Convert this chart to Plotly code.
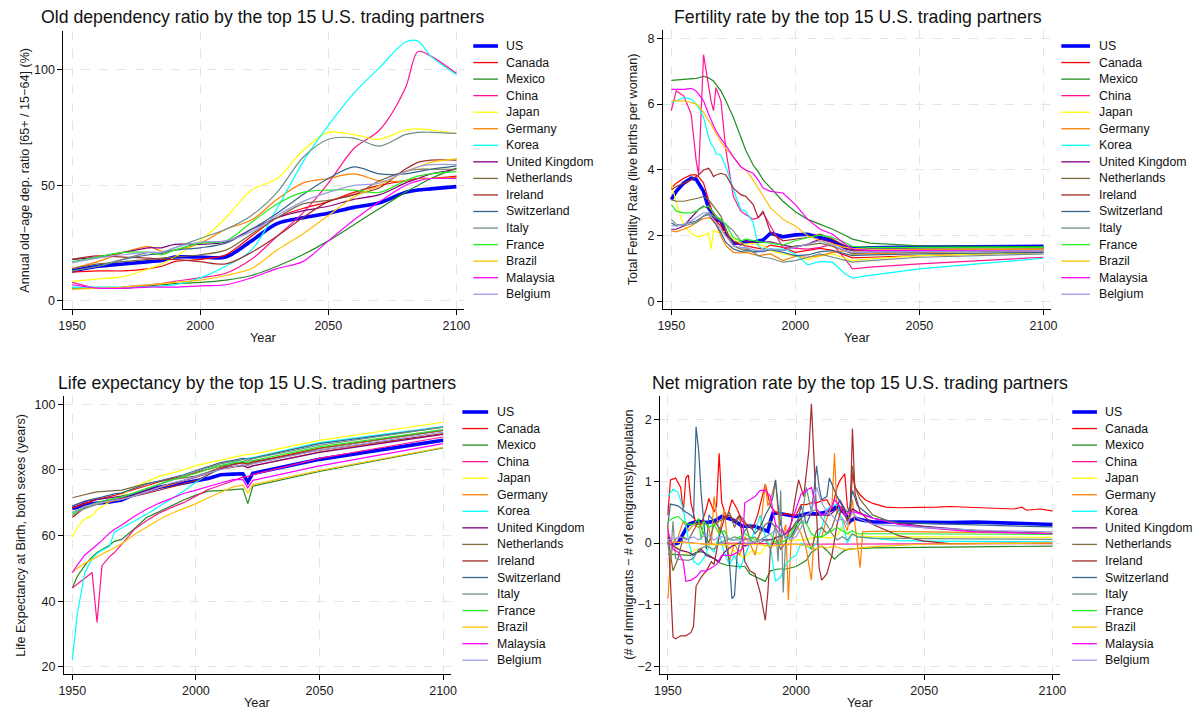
import plotly.graph_objects as go

W, H = 1198, 710
FONT = "Liberation Sans, Arial, Helvetica, sans-serif"

COUNTRIES = ["US", "Canada", "Mexico", "China", "Japan", "Germany", "Korea",
             "United Kingdom", "Netherlands", "Ireland", "Switzerland", "Italy",
             "France", "Brazil", "Malaysia", "Belgium"]
COLORS = ["#0000FF", "#FF0000", "#228B22", "#FF1493", "#FFFF00", "#FF7F00", "#00FFFF",
          "#800080", "#7D6B3D", "#A52A2A", "#36648B", "#6F8F86",
          "#22EE22", "#FFC000", "#FF00FF", "#9A9AE6"]

# ---------------- Old-age dependency ratio (%) ----------------
DEP_YEARS = [1950, 1960, 1970, 1980, 1985, 1990, 2000, 2010, 2020, 2030, 2040, 2050, 2060, 2070, 2080, 2085, 2090, 2100]
dep_US = [13, 15, 16, 17, 17.5, 19, 19, 19, 26, 33.5, 36, 38, 40.5, 42.5, 47, 48, 48.5, 49.5]
dep_Canada = [12.5, 13, 13, 14, 15, 17, 18, 20, 28, 36, 40, 43, 47, 50, 52, 53, 53, 54]
dep_Mexico = [5.5, 5.5, 5.5, 6.5, 7, 7.5, 8, 9, 11, 15, 20, 26, 33, 40, 47, 50, 53, 57.5]
dep_China = [8, 5.5, 6, 7, 7.5, 8.5, 10, 12, 18, 28, 38, 51, 66, 74, 92, 108, 106, 98.5]
dep_Japan = [8.5, 9.5, 10.5, 14, 16, 19, 26, 36, 48, 53, 65, 73, 72, 70, 74, 74.5, 74, 72.5]
dep_Germany = [14, 17, 21, 23.5, 21.5, 22, 25, 31, 35, 44, 51, 53, 55, 52, 52, 53, 53, 53.5]
dep_Korea = [6, 6, 6, 6, 6.5, 7, 10, 15, 22, 40, 60, 76, 90, 101, 112, 112.5, 106, 98]
dep_UK = [18, 19, 21, 23, 23, 24.5, 24.5, 25.5, 31, 36, 39, 41, 44, 46, 51, 53, 55, 57]
dep_Netherlands = [14, 16, 17, 18, 18.5, 19, 20, 22, 29, 36, 42, 43.5, 46, 52, 56, 57, 57, 57]
dep_Ireland = [18, 19.5, 19, 18.5, 18, 18, 17, 16, 21, 28, 36, 43, 46, 49, 57, 60, 61, 61]
dep_Switzerland = [13, 15, 18, 20, 20.5, 22, 23, 25, 31, 38, 46, 53, 58, 55, 55, 56, 57, 58.5]
dep_Italy = [13, 15, 18, 21, 21, 23, 27, 31, 37, 47, 62, 70, 70.5, 67, 72, 73, 73, 72.5]
dep_France = [17, 19, 21, 21, 20, 22, 25, 26, 34, 42, 47, 48, 48, 47, 52, 54, 55, 56]
dep_Brazil = [5, 5.5, 6, 7, 7.5, 8, 9, 11, 14, 22, 29, 37, 45, 50, 56, 58, 60, 61.5]
dep_Malaysia = [7, 5.5, 5.5, 6, 6, 6, 6.5, 7, 10, 14, 17, 26, 35, 43, 50, 52, 53, 53]
dep_Belgium = [16.5, 18.5, 20, 21, 21, 23, 25.5, 26, 30, 37, 43, 47, 50, 51, 56, 58, 59, 59]

# ---------------- Total fertility rate ----------------
FERT_YEARS = [1950, 1952, 1955, 1958, 1960, 1961, 1963, 1965, 1966, 1967, 1968, 1970, 1972, 1975, 1978,
              1980, 1983, 1985, 1987, 1990, 1995, 2000, 2005, 2010, 2015, 2020, 2023, 2030, 2050, 2100]
fert_US = [3.1, 3.35, 3.6, 3.75, 3.72, 3.6, 3.35, 2.85, 2.75, 2.6, 2.5, 2.45, 2.1, 1.78, 1.78, 1.82, 1.8, 1.84, 1.87, 2.08, 1.97, 2.03, 2.05, 1.95, 1.84, 1.66, 1.62, 1.64, 1.66, 1.68]
fert_Canada = [3.45, 3.6, 3.75, 3.85, 3.85, 3.8, 3.6, 3.1, 2.8, 2.6, 2.45, 2.3, 2.0, 1.8, 1.75, 1.7, 1.65, 1.62, 1.6, 1.72, 1.65, 1.5, 1.55, 1.62, 1.56, 1.42, 1.33, 1.35, 1.4, 1.5]
fert_Mexico = [6.72, 6.73, 6.75, 6.77, 6.78, 6.8, 6.84, 6.8, 6.75, 6.7, 6.6, 6.4, 6.1, 5.6, 5.0, 4.6, 4.15, 3.95, 3.7, 3.45, 3.05, 2.73, 2.5, 2.35, 2.2, 2.02, 1.9, 1.78, 1.7, 1.67]
fert_China = [5.8, 6.4, 6.25, 5.7, 4.3, 3.85, 7.5, 6.6, 6.1, 5.8, 6.5, 6.1, 4.6, 3.2, 2.75, 2.65, 2.5, 2.55, 2.7, 2.3, 1.65, 1.62, 1.6, 1.65, 1.75, 1.3, 1.0, 1.05, 1.15, 1.35]
fert_Japan = [3.6, 3.0, 2.3, 2.08, 2.0, 1.97, 2.02, 2.1, 1.6, 2.15, 2.12, 2.1, 2.15, 1.9, 1.78, 1.75, 1.78, 1.75, 1.7, 1.55, 1.45, 1.38, 1.28, 1.38, 1.45, 1.32, 1.25, 1.3, 1.4, 1.5]
fert_Germany = [2.15, 2.12, 2.2, 2.3, 2.4, 2.45, 2.52, 2.55, 2.52, 2.45, 2.35, 2.0, 1.7, 1.5, 1.48, 1.5, 1.45, 1.4, 1.42, 1.45, 1.25, 1.38, 1.35, 1.4, 1.5, 1.55, 1.45, 1.45, 1.5, 1.55]
fert_Korea = [6.05, 6.1, 6.2, 6.15, 6.0, 5.9, 5.6, 5.0, 4.8, 4.7, 4.5, 4.45, 4.1, 3.4, 2.8, 2.75, 2.4, 1.7, 1.6, 1.6, 1.6, 1.45, 1.12, 1.22, 1.2, 0.85, 0.72, 0.8, 1.0, 1.32]
fert_UK = [2.2, 2.2, 2.3, 2.55, 2.7, 2.8, 2.9, 2.85, 2.8, 2.7, 2.6, 2.4, 2.1, 1.8, 1.72, 1.85, 1.8, 1.8, 1.82, 1.82, 1.72, 1.65, 1.75, 1.9, 1.8, 1.6, 1.55, 1.55, 1.55, 1.6]
fert_Netherlands = [3.1, 3.05, 3.05, 3.1, 3.12, 3.15, 3.2, 3.1, 3.0, 2.9, 2.8, 2.6, 2.2, 1.7, 1.6, 1.6, 1.5, 1.52, 1.55, 1.6, 1.55, 1.7, 1.72, 1.78, 1.68, 1.55, 1.45, 1.5, 1.52, 1.55]
fert_Ireland = [3.4, 3.5, 3.6, 3.7, 3.8, 3.85, 4.0, 4.05, 3.95, 3.8, 3.85, 3.9, 3.85, 3.45, 3.25, 3.2, 2.95, 2.55, 2.75, 2.1, 1.85, 1.9, 1.95, 2.05, 1.9, 1.7, 1.55, 1.55, 1.58, 1.6]
fert_Switzerland = [2.4, 2.3, 2.35, 2.4, 2.45, 2.5, 2.6, 2.65, 2.55, 2.45, 2.35, 2.1, 1.8, 1.6, 1.52, 1.55, 1.52, 1.52, 1.52, 1.58, 1.5, 1.4, 1.42, 1.52, 1.55, 1.45, 1.4, 1.42, 1.45, 1.5]
fert_Italy = [2.5, 2.35, 2.3, 2.35, 2.4, 2.45, 2.6, 2.7, 2.65, 2.6, 2.55, 2.45, 2.35, 2.15, 1.85, 1.65, 1.5, 1.4, 1.35, 1.32, 1.2, 1.25, 1.35, 1.45, 1.35, 1.25, 1.2, 1.25, 1.35, 1.45]
fert_France = [2.95, 2.75, 2.7, 2.7, 2.75, 2.8, 2.88, 2.9, 2.8, 2.7, 2.6, 2.5, 2.35, 1.95, 1.85, 1.9, 1.85, 1.82, 1.8, 1.78, 1.72, 1.85, 1.95, 2.02, 1.95, 1.8, 1.68, 1.65, 1.65, 1.65]
fert_Brazil = [6.1, 6.1, 6.1, 6.05, 6.0, 5.95, 5.75, 5.5, 5.4, 5.25, 5.1, 4.85, 4.65, 4.4, 4.1, 4.0, 3.7, 3.45, 3.2, 2.85, 2.5, 2.3, 2.0, 1.85, 1.75, 1.65, 1.62, 1.6, 1.6, 1.6]
fert_Malaysia = [6.45, 6.45, 6.45, 6.48, 6.4, 6.3, 6.1, 5.7, 5.5, 5.35, 5.2, 4.95, 4.75, 4.4, 4.1, 4.0, 3.9, 3.7, 3.45, 3.35, 3.3, 2.95, 2.5, 2.2, 2.05, 1.75, 1.6, 1.55, 1.55, 1.55]
fert_Belgium = [2.3, 2.3, 2.35, 2.45, 2.55, 2.6, 2.7, 2.7, 2.6, 2.5, 2.4, 2.2, 2.0, 1.7, 1.65, 1.65, 1.58, 1.55, 1.55, 1.6, 1.55, 1.65, 1.75, 1.85, 1.72, 1.55, 1.5, 1.5, 1.52, 1.55]

# ---------------- Life expectancy at birth (years) ----------------
LIFE_YEARS = [1950, 1952, 1955, 1958, 1960, 1962, 1965, 1967, 1970, 1975, 1980, 1985, 1990, 1995,
              2000, 2005, 2010, 2015, 2019, 2021, 2023, 2050, 2100]
life_US = [68.2, 68.6, 69.5, 69.6, 69.8, 70.0, 70.2, 70.4, 70.8, 72.5, 73.7, 74.7, 75.3, 75.9, 76.7, 77.4, 78.5, 78.7, 78.8, 76.3, 78.9, 83.2, 89.0]
life_Canada = [68.4, 68.9, 69.8, 70.5, 71.0, 71.3, 71.8, 72.2, 72.8, 74.0, 75.2, 76.3, 77.3, 78.0, 79.2, 80.2, 81.2, 81.8, 82.2, 81.6, 82.3, 86.6, 92.0]
life_Mexico = [44.0, 47.5, 50.8, 53.5, 54.8, 55.7, 57.0, 58.2, 58.8, 62.0, 65.5, 67.2, 69.0, 70.8, 72.3, 73.5, 73.7, 73.9, 74.2, 69.7, 75.0, 79.5, 86.7]
life_China = [44.0, 45.2, 46.9, 48.7, 33.5, 50.8, 53.5, 54.8, 57.3, 61.8, 64.5, 66.8, 68.5, 70.0, 72.0, 74.0, 75.3, 76.8, 77.8, 78.0, 78.5, 83.5, 90.0]
life_Japan = [59.5, 62.5, 65.0, 66.0, 67.8, 68.8, 70.3, 71.0, 72.2, 74.8, 76.5, 78.0, 79.0, 80.0, 81.3, 82.2, 82.9, 83.8, 84.5, 84.6, 84.8, 89.0, 94.5]
life_Germany = [67.0, 67.8, 68.8, 69.3, 69.5, 69.9, 70.3, 70.6, 71.0, 72.2, 73.5, 74.6, 75.5, 76.7, 78.0, 79.0, 80.1, 80.8, 81.3, 80.8, 81.2, 85.5, 91.0]
life_Korea = [22.0, 36.0, 48.5, 53.0, 54.5, 55.5, 56.6, 61.0, 62.3, 64.3, 66.5, 68.8, 71.2, 73.5, 76.3, 78.5, 80.3, 82.2, 83.3, 83.6, 83.7, 88.3, 93.2]
life_UK = [69.0, 69.6, 70.3, 70.8, 71.0, 71.2, 71.6, 71.8, 72.0, 72.8, 73.8, 74.8, 75.8, 76.7, 77.8, 79.0, 80.4, 81.0, 81.3, 80.6, 81.2, 85.3, 90.8]
life_Netherlands = [71.5, 71.9, 72.6, 73.0, 73.3, 73.4, 73.6, 73.7, 73.8, 74.8, 75.8, 76.5, 77.1, 77.5, 78.1, 79.3, 80.8, 81.6, 82.2, 81.5, 82.0, 86.5, 92.0]
life_Ireland = [65.5, 66.8, 68.5, 69.6, 70.0, 70.4, 70.9, 71.0, 71.3, 72.0, 72.8, 73.8, 74.8, 75.6, 76.7, 78.5, 80.5, 81.6, 82.2, 82.0, 82.5, 86.0, 91.0]
life_Switzerland = [69.0, 69.6, 70.5, 71.0, 71.3, 71.7, 72.3, 72.7, 73.0, 74.4, 75.7, 76.6, 77.5, 78.5, 79.8, 81.1, 82.2, 82.9, 83.5, 83.3, 83.6, 88.0, 93.0]
life_Italy = [66.0, 67.2, 68.2, 69.0, 69.5, 70.0, 70.8, 71.2, 71.6, 72.8, 74.2, 75.5, 76.8, 78.2, 79.5, 80.7, 81.8, 82.6, 83.2, 82.6, 83.4, 87.5, 93.0]
life_France = [66.5, 67.5, 68.8, 69.5, 70.0, 70.5, 71.0, 71.3, 71.8, 73.0, 74.3, 75.6, 76.9, 77.9, 78.9, 80.2, 81.3, 82.1, 82.6, 82.2, 82.8, 87.0, 92.3]
life_Brazil = [48.8, 50.0, 51.5, 52.7, 53.5, 54.3, 55.4, 56.2, 57.5, 60.2, 62.5, 64.8, 66.7, 68.2, 69.7, 71.5, 73.2, 74.8, 75.3, 73.0, 75.5, 79.8, 86.8]
life_Malaysia = [48.7, 51.0, 54.0, 55.8, 57.2, 58.5, 60.7, 61.8, 63.2, 65.8, 68.0, 69.8, 71.3, 72.8, 73.8, 75.0, 76.0, 77.0, 77.0, 74.5, 76.8, 81.2, 88.0]
life_Belgium = [67.0, 67.8, 68.8, 69.4, 69.8, 70.1, 70.5, 70.8, 71.0, 72.0, 73.3, 74.6, 76.0, 76.8, 77.8, 79.0, 80.1, 81.0, 81.6, 81.3, 81.8, 86.0, 91.5]

# ---------------- Net migration rate: [year, value] ----------------
mig_US = [[1950, 0.03], [1952, -0.02], [1954, 0.0], [1956, 0.15], [1958, 0.3], [1960, 0.33], [1962, 0.35], [1965, 0.33], [1968, 0.35], [1971, 0.43], [1973, 0.4], [1975, 0.38], [1977, 0.33], [1979, 0.27], [1982, 0.27], [1984, 0.27], [1987, 0.22], [1989, 0.19], [1990, 0.35], [1991, 0.48], [1993, 0.48], [1996, 0.46], [2000, 0.43], [2002, 0.45], [2005, 0.48], [2008, 0.47], [2010, 0.48], [2012, 0.5], [2014, 0.54], [2016, 0.59], [2018, 0.52], [2019, 0.48], [2021, 0.35], [2023, 0.4], [2026, 0.37], [2030, 0.34], [2040, 0.34], [2050, 0.33], [2060, 0.33], [2070, 0.34], [2080, 0.33], [2090, 0.32], [2100, 0.3]]
mig_Canada = [[1950, 0.45], [1951, 1.02], [1953, 1.05], [1955, 0.9], [1956, 0.5], [1957, 1.05], [1958, 1.1], [1959, 0.65], [1961, 0.3], [1963, 0.3], [1965, 0.55], [1966, 0.72], [1968, 0.5], [1969, 0.6], [1970, 1.45], [1971, 0.65], [1973, 0.4], [1975, 0.7], [1977, 0.55], [1979, 0.35], [1981, 0.3], [1983, 0.22], [1985, 0.45], [1987, 0.8], [1988, 0.95], [1990, 0.6], [1992, 0.5], [1994, 0.45], [1996, 0.48], [1998, 0.45], [2000, 0.45], [2002, 0.62], [2004, 0.62], [2006, 0.65], [2008, 0.65], [2010, 0.68], [2012, 0.7], [2014, 0.55], [2016, 0.9], [2017, 1.0], [2019, 1.12], [2020, 0.6], [2021, 0.45], [2022, 1.12], [2023, 0.9], [2025, 0.78], [2027, 0.7], [2030, 0.64], [2035, 0.58], [2040, 0.57], [2045, 0.57], [2050, 0.57], [2055, 0.58], [2060, 0.59], [2065, 0.58], [2070, 0.57], [2075, 0.56], [2080, 0.56], [2085, 0.55], [2088, 0.58], [2090, 0.53], [2095, 0.55], [2100, 0.52]]
mig_Mexico = [[1950, -0.18], [1955, -0.19], [1959, -0.2], [1961, -0.15], [1963, -0.14], [1965, -0.17], [1968, -0.25], [1970, -0.32], [1973, -0.36], [1977, -0.38], [1980, -0.38], [1982, -0.5], [1985, -0.56], [1988, -0.62], [1990, -0.45], [1993, -0.42], [1996, -0.42], [2000, -0.38], [2002, -0.33], [2004, -0.28], [2006, -0.15], [2008, -0.1], [2010, -0.05], [2012, -0.12], [2014, -0.22], [2015, -0.26], [2017, -0.18], [2019, -0.12], [2021, -0.1], [2023, -0.09], [2030, -0.08], [2050, -0.07], [2075, -0.06], [2100, -0.05]]
mig_China = [[1950, 0.0], [1955, 0.02], [1960, 0.0], [1965, -0.02], [1970, 0.0], [1975, 0.0], [1980, -0.01], [1985, 0.0], [1990, -0.01], [1995, -0.02], [2000, -0.02], [2005, -0.02], [2010, -0.02], [2015, -0.01], [2020, -0.02], [2025, -0.02], [2050, -0.02], [2100, -0.01]]
mig_Japan = [[1950, 0.02], [1953, -0.05], [1956, -0.12], [1958, -0.18], [1960, -0.12], [1963, -0.08], [1966, -0.05], [1969, 0.0], [1972, -0.05], [1975, -0.1], [1978, -0.2], [1980, -0.24], [1983, -0.12], [1986, -0.18], [1988, -0.05], [1990, 0.0], [1993, 0.04], [1996, 0.02], [2000, 0.05], [2003, 0.05], [2006, 0.08], [2010, 0.1], [2013, 0.08], [2016, 0.12], [2018, 0.25], [2020, 0.15], [2023, 0.12], [2030, 0.1], [2050, 0.1], [2100, 0.09]]
mig_Germany = [[1950, -0.9], [1951, -0.3], [1952, 0.0], [1954, 0.1], [1956, 0.35], [1958, 0.2], [1960, 0.3], [1962, 0.25], [1964, 0.35], [1966, 0.25], [1967, 0.0], [1968, 0.75], [1970, 0.15], [1972, 0.55], [1974, -0.3], [1976, 0.0], [1978, -0.2], [1980, 0.1], [1982, 0.0], [1984, -0.2], [1986, 0.2], [1988, 0.95], [1989, 0.6], [1990, 0.7], [1992, 1.0], [1994, 0.0], [1996, 0.3], [1997, -0.92], [1998, 0.0], [2000, 0.3], [2002, 0.15], [2004, -0.1], [2006, -0.6], [2007, 0.1], [2010, 0.1], [2012, 0.4], [2014, 0.6], [2015, 1.45], [2016, 0.5], [2018, 0.4], [2020, 0.2], [2022, 0.7], [2023, 0.3], [2025, -0.4], [2026, 0.18], [2030, 0.19], [2050, 0.18], [2075, 0.17], [2100, 0.16]]
mig_Korea = [[1950, 0.75], [1952, 0.87], [1954, 0.82], [1956, 0.55], [1958, 0.05], [1960, -0.3], [1962, -0.35], [1964, -0.25], [1966, -0.05], [1968, -0.15], [1970, 0.15], [1972, -0.15], [1974, -0.35], [1976, -0.2], [1978, -0.42], [1980, -0.2], [1982, 0.0], [1984, 0.2], [1986, 0.45], [1988, 0.1], [1990, -0.05], [1992, -0.62], [1994, -0.55], [1996, -0.35], [1998, -0.25], [2000, -0.2], [2002, 0.0], [2004, -0.05], [2006, -0.1], [2008, 0.0], [2010, 0.25], [2012, 0.55], [2014, 0.6], [2016, 0.62], [2018, 0.35], [2020, 0.0], [2022, 0.15], [2024, 0.1], [2030, 0.08], [2040, 0.04], [2050, 0.03], [2100, 0.02]]
mig_UK = [[1950, 0.15], [1952, -0.05], [1955, -0.12], [1958, -0.15], [1960, -0.2], [1963, -0.1], [1965, -0.2], [1968, -0.25], [1970, -0.3], [1972, -0.15], [1975, -0.05], [1978, 0.0], [1980, -0.05], [1983, 0.0], [1986, 0.05], [1990, 0.05], [1993, 0.1], [1996, 0.15], [2000, 0.3], [2003, 0.45], [2006, 0.45], [2010, 0.45], [2013, 0.45], [2016, 0.55], [2017, 0.7], [2019, 0.55], [2020, 0.35], [2022, 0.55], [2024, 0.5], [2030, 0.4], [2040, 0.32], [2050, 0.27], [2070, 0.2], [2100, 0.15]]
mig_Netherlands = [[1950, 0.1], [1952, -0.45], [1954, -0.25], [1956, 0.1], [1958, 0.05], [1960, 0.2], [1962, 0.35], [1964, 0.15], [1966, 0.0], [1968, 0.3], [1970, 0.35], [1972, 0.4], [1974, 0.5], [1976, 0.25], [1978, 0.45], [1980, 0.35], [1982, 0.05], [1984, 0.0], [1986, 0.15], [1988, 0.3], [1990, 0.35], [1992, 0.25], [1994, 0.1], [1996, 0.15], [1998, 0.2], [2000, 0.35], [2002, 0.4], [2004, 0.1], [2006, -0.1], [2008, 0.2], [2010, 0.25], [2012, 0.15], [2014, 0.25], [2016, 0.5], [2018, 0.6], [2020, 0.35], [2021, 0.5], [2022, 1.25], [2023, 0.9], [2025, 0.7], [2030, 0.45], [2040, 0.3], [2060, 0.22], [2080, 0.18], [2100, 0.15]]
mig_Ireland = [[1950, 0.3], [1951, -0.5], [1952, -1.52], [1953, -1.55], [1955, -1.5], [1957, -1.5], [1959, -1.45], [1960, -1.35], [1961, -0.7], [1963, -0.55], [1965, -0.45], [1967, -0.3], [1968, -0.35], [1970, 0.1], [1972, 0.4], [1974, 0.45], [1976, 0.35], [1978, 0.45], [1980, -0.3], [1982, -0.45], [1984, -0.5], [1986, -0.8], [1988, -1.25], [1989, -0.8], [1990, -0.1], [1992, 0.1], [1994, -0.1], [1996, 0.0], [1998, 0.3], [2000, 0.8], [2001, 1.02], [2003, 0.75], [2005, 1.5], [2006, 2.25], [2007, 1.3], [2008, 0.3], [2009, -0.4], [2010, -0.6], [2012, -0.5], [2014, -0.2], [2016, 0.3], [2018, 0.6], [2020, 0.4], [2021, 0.3], [2022, 1.85], [2023, 0.8], [2025, 0.5], [2030, 0.3], [2040, 0.12], [2050, 0.03], [2060, -0.01], [2080, 0.0], [2100, 0.0]]
mig_Switzerland = [[1950, 0.3], [1951, 0.63], [1954, 0.6], [1957, 0.5], [1959, 0.45], [1960, 0.4], [1961, 1.88], [1962, 1.5], [1963, 0.8], [1964, 0.3], [1965, -0.1], [1966, 0.45], [1968, 0.35], [1970, 0.25], [1972, 0.1], [1974, -0.3], [1975, -0.9], [1976, -0.85], [1977, -0.2], [1978, 0.0], [1980, 0.2], [1982, 0.3], [1984, 0.15], [1986, 0.25], [1988, 0.45], [1990, 0.6], [1991, 0.75], [1992, 1.02], [1993, 0.6], [1994, 0.3], [1996, 0.05], [1998, 0.1], [2000, 0.25], [2002, 0.6], [2004, 0.3], [2006, 0.5], [2007, 0.85], [2008, 1.25], [2009, 0.9], [2010, 0.7], [2012, 0.75], [2013, 1.05], [2014, 0.95], [2016, 0.75], [2018, 0.6], [2020, 0.5], [2021, 0.55], [2022, 0.85], [2024, 0.6], [2030, 0.4], [2040, 0.33], [2060, 0.3], [2080, 0.28], [2100, 0.26]]
mig_Italy = [[1950, 0.0], [1951, -0.25], [1952, 0.35], [1953, -0.25], [1955, -0.27], [1958, -0.28], [1960, -0.25], [1962, -0.1], [1965, -0.05], [1968, -0.1], [1970, 0.0], [1973, 0.05], [1976, 0.1], [1980, 0.05], [1984, 0.1], [1986, 0.0], [1988, 0.05], [1990, -0.1], [1992, 0.3], [1993, -0.3], [1994, 0.85], [1995, -0.8], [1996, 0.1], [1998, 0.05], [2000, 0.2], [2002, 0.35], [2004, 0.9], [2006, 0.5], [2008, 0.55], [2010, 0.4], [2012, 0.3], [2014, 0.15], [2016, 0.05], [2018, 0.1], [2020, 0.05], [2022, 0.15], [2024, 0.1], [2030, 0.08], [2050, 0.07], [2100, 0.06]]
mig_France = [[1950, 0.35], [1952, 0.4], [1954, 0.43], [1956, 0.35], [1958, 0.3], [1960, 0.3], [1962, 0.4], [1963, 0.05], [1964, 0.35], [1966, 0.25], [1968, 0.3], [1970, 0.15], [1972, 0.2], [1974, 0.05], [1976, 0.05], [1978, 0.1], [1980, 0.15], [1982, 0.1], [1984, 0.05], [1986, 0.05], [1988, 0.1], [1990, 0.15], [1992, 0.0], [1994, 0.0], [1996, 0.05], [1998, 0.15], [2000, 0.3], [2002, 0.33], [2004, 0.32], [2006, 0.15], [2008, 0.1], [2010, 0.1], [2012, 0.15], [2014, 0.2], [2016, 0.25], [2018, 0.2], [2020, 0.15], [2022, 0.2], [2024, 0.15], [2030, 0.15], [2050, 0.15], [2100, 0.14]]
mig_Brazil = [[1950, 0.02], [1955, 0.01], [1960, 0.0], [1965, -0.02], [1970, -0.03], [1975, -0.02], [1980, -0.02], [1985, -0.02], [1990, -0.05], [1995, -0.03], [2000, -0.02], [2005, -0.05], [2008, -0.1], [2010, -0.05], [2012, -0.08], [2015, -0.05], [2018, -0.1], [2020, -0.1], [2022, -0.1], [2025, -0.08], [2030, -0.06], [2050, -0.02], [2075, -0.01], [2100, 0.0]]
mig_Malaysia = [[1950, 0.2], [1952, -0.1], [1954, -0.15], [1956, -0.3], [1957, -0.62], [1959, -0.6], [1961, -0.55], [1963, -0.45], [1965, -0.45], [1967, -0.4], [1969, -0.35], [1971, -0.2], [1973, -0.2], [1975, -0.2], [1977, -0.15], [1979, -0.1], [1980, 0.65], [1982, 0.7], [1984, 0.75], [1986, 0.85], [1988, 0.85], [1990, 0.75], [1992, 0.3], [1994, 0.2], [1996, 0.15], [1998, 0.3], [2000, 0.55], [2002, 0.8], [2004, 0.85], [2006, 0.9], [2008, 0.55], [2010, 0.45], [2012, 0.5], [2014, 0.6], [2015, 0.7], [2017, 0.6], [2019, 0.45], [2021, 0.5], [2023, 0.5], [2030, 0.4], [2040, 0.3], [2050, 0.25], [2070, 0.18], [2100, 0.15]]
mig_Belgium = [[1950, 0.05], [1955, 0.1], [1957, 0.05], [1960, 0.1], [1962, 0.05], [1965, 0.15], [1968, 0.05], [1970, 0.1], [1972, 0.1], [1975, 0.05], [1978, 0.05], [1980, 0.0], [1983, 0.0], [1986, 0.05], [1988, 0.1], [1990, 0.15], [1992, 0.2], [1994, 0.15], [1996, 0.1], [1998, 0.05], [2000, 0.1], [2002, 0.25], [2004, 0.45], [2006, 0.5], [2008, 0.9], [2010, 0.65], [2012, 0.5], [2014, 0.45], [2016, 0.35], [2018, 0.4], [2020, 0.3], [2022, 0.5], [2024, 0.4], [2030, 0.3], [2050, 0.25], [2075, 0.2], [2100, 0.18]]

DEP = [dep_US, dep_Canada, dep_Mexico, dep_China, dep_Japan, dep_Germany, dep_Korea, dep_UK,
       dep_Netherlands, dep_Ireland, dep_Switzerland, dep_Italy, dep_France, dep_Brazil, dep_Malaysia, dep_Belgium]
FERT = [fert_US, fert_Canada, fert_Mexico, fert_China, fert_Japan, fert_Germany, fert_Korea, fert_UK,
        fert_Netherlands, fert_Ireland, fert_Switzerland, fert_Italy, fert_France, fert_Brazil, fert_Malaysia, fert_Belgium]
LIFE = [life_US, life_Canada, life_Mexico, life_China, life_Japan, life_Germany, life_Korea, life_UK,
        life_Netherlands, life_Ireland, life_Switzerland, life_Italy, life_France, life_Brazil, life_Malaysia, life_Belgium]
MIG = [mig_US, mig_Canada, mig_Mexico, mig_China, mig_Japan, mig_Germany, mig_Korea, mig_UK,
       mig_Netherlands, mig_Ireland, mig_Switzerland, mig_Italy, mig_France, mig_Brazil, mig_Malaysia, mig_Belgium]


def fx(px):
    return px / W


def fy(py):
    return 1 - py / H


panels = [
    dict(n="", title="Old dependency ratio by the top 15 U.S. trading partners",
         ytitle="Annual old\u2212age dep. ratio [65+ / 15\u221264] (%)",
         box=(58, 463, 30.7, 309), xr=[1946.6, 2103.1], yr=[-3.5, 117.0], yt=[0, 50, 100],
         series=[(DEP_YEARS, v) for v in DEP], shape="spline",
         title_xy=(260, 17), ytitle_x=19, xtitle_y=337, leg=(472, 497, 503, 46)),
    dict(n="2", title="Fertility rate by the top 15 U.S. trading partners",
         ytitle="Total Fertility Rate (live births per woman)",
         box=(663.5, 1056, 30, 309.3), xr=[1946.6, 2103.2], yr=[-0.23, 8.25], yt=[0, 2, 4, 6, 8],
         series=[(FERT_YEARS, v) for v in FERT], shape="linear",
         title_xy=(861, 17), ytitle_x=633, xtitle_y=337, leg=(1066, 1095, 1102, 46)),
    dict(n="3", title="Life expectancy by the top 15 U.S. trading partners",
         ytitle="Life Expectancy at Birth, both sexes (years)",
         box=(58.5, 449, 396, 674), xr=[1946.6, 2103.0], yr=[17.8, 102.5], yt=[20, 40, 60, 80, 100],
         series=[(LIFE_YEARS, v) for v in LIFE], shape="linear",
         title_xy=(254, 383), ytitle_x=15, xtitle_y=702, leg=(461, 487, 494, 412)),
    dict(n="4", title="Net migration rate by the top 15 U.S. trading partners",
         ytitle="(# of immigrants \u2212 # of emigrants)/population",
         box=(660.8, 1065, 396, 674), xr=[1947.0, 2103.1], yr=[-2.118, 2.377], yt=[-2, -1, 0, 1, 2],
         series=[([p[0] for p in s], [p[1] for p in s]) for s in MIG], shape="linear",
         title_xy=(863, 383), ytitle_x=629, xtitle_y=702, leg=(1077, 1102, 1108, 412)),
]

fig = go.Figure()
layout = dict(width=W, height=H, margin=dict(l=0, r=0, t=0, b=0),
              paper_bgcolor="white", plot_bgcolor="white", showlegend=False,
              font=dict(family=FONT, size=12.5, color="#1a1a1a"))
annotations = []
shapes = []
LEG_STEP = 16.55

for p in panels:
    n = p["n"]
    xa, ya = "x" + n, "y" + n
    x0, x1, y0, y1 = p["box"]
    axis_common = dict(showline=True, linecolor="black", linewidth=1, ticks="outside", ticklen=5,
                       tickcolor="black", tickwidth=1, showgrid=True, gridcolor="#E4E4E4",
                       griddash="dash", gridwidth=1, zeroline=False,
                       tickfont=dict(family=FONT, size=12.5, color="#1a1a1a"))
    layout["xaxis" + n] = dict(axis_common, domain=[fx(x0), fx(x1)], range=p["xr"],
                               anchor=ya, tickvals=[1950, 2000, 2050, 2100])
    layout["yaxis" + n] = dict(axis_common, domain=[fy(y1), fy(y0)], range=p["yr"],
                               anchor=xa, tickvals=p["yt"])
    for i, (xs, ys) in enumerate(p["series"]):
        fig.add_trace(go.Scatter(
            x=xs, y=ys, mode="lines", name=COUNTRIES[i], xaxis=xa, yaxis=ya,
            line=dict(color=COLORS[i], width=3.6 if i == 0 else 1.2, shape=p["shape"],
                      **({"smoothing": 0.9} if p["shape"] == "spline" else {})),
            hoverinfo="name+x+y"))
    # titles
    tx, ty = p["title_xy"]
    annotations.append(dict(text=p["title"], x=fx(tx), y=fy(ty), xref="paper", yref="paper",
                            showarrow=False, xanchor="center", yanchor="middle",
                            font=dict(family=FONT, size=17.7, color="#111")))
    annotations.append(dict(text="Year", x=fx((x0 + x1) / 2), y=fy(p["xtitle_y"]), xref="paper",
                            yref="paper", showarrow=False, xanchor="center", yanchor="middle",
                            font=dict(family=FONT, size=12.8, color="#1a1a1a")))
    annotations.append(dict(text=p["ytitle"], x=fx(p["ytitle_x"]), y=fy((y0 + y1) / 2), xref="paper",
                            yref="paper", showarrow=False, xanchor="center", yanchor="middle",
                            textangle=-90, font=dict(family=FONT, size=12.6, color="#1a1a1a")))
    # legend (drawn as a key beside each panel)
    lx0, lx1, tx0, ly0 = p["leg"]
    for i, name in enumerate(COUNTRIES):
        yy = ly0 + i * LEG_STEP
        shapes.append(dict(type="line", xref="paper", yref="paper", x0=fx(lx0), x1=fx(lx1),
                           y0=fy(yy), y1=fy(yy),
                           line=dict(color=COLORS[i], width=3.6 if i == 0 else 1.3)))
        annotations.append(dict(text=name, x=fx(tx0), y=fy(yy), xref="paper", yref="paper",
                                showarrow=False, xanchor="left", yanchor="middle",
                                font=dict(family=FONT, size=12.3, color="#111")))

layout["annotations"] = annotations
layout["shapes"] = shapes
fig.update_layout(**layout)
fig.write_html("out.html")
